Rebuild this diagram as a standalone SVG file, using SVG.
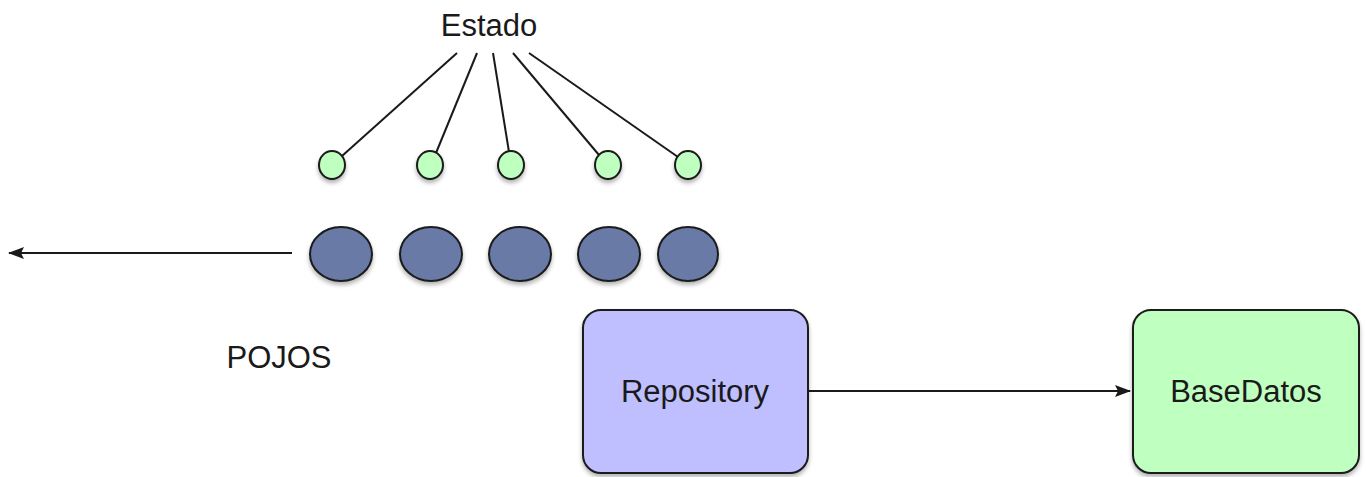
<svg xmlns="http://www.w3.org/2000/svg" width="1366" height="477" viewBox="0 0 1366 477">
<style>
text{font-family:"Liberation Sans",Arial,sans-serif;font-size:31px;fill:#1a1a1a}
.pojo{fill:#6a7aa6;stroke:#1a1a1a;stroke-width:2}
.st{fill:#bfffbf;stroke:#1a1a1a;stroke-width:2}
.ln{stroke:#1a1a1a;stroke-width:2;fill:none}
</style>
<defs>
<filter id="sh" x="-20%" y="-20%" width="140%" height="150%">
<feDropShadow dx="0" dy="3" stdDeviation="2" flood-color="#000" flood-opacity="0.3"/>
</filter>
<marker id="ah" viewBox="0 0 16 12" refX="15" refY="6" markerWidth="16" markerHeight="12" markerUnits="userSpaceOnUse" orient="auto">
<path d="M0,0 L16,6 L0,12 L3,6 Z" fill="#1a1a1a"/>
</marker>
</defs>
<g id="connectors">
<line class="ln" x1="457" y1="53" x2="342" y2="156"/>
<line class="ln" x1="477" y1="53" x2="436" y2="153"/>
<line class="ln" x1="493" y1="53" x2="509" y2="152"/>
<line class="ln" x1="513" y1="53" x2="599" y2="155"/>
<line class="ln" x1="529" y1="53" x2="678" y2="157"/>
<line class="ln" x1="292" y1="253" x2="9" y2="253" marker-end="url(#ah)"/>
<line class="ln" x1="808" y1="391" x2="1130" y2="391" marker-end="url(#ah)"/>
</g>
<g id="estado"><text x="489" y="36" text-anchor="middle">Estado</text></g>
<g id="estados" filter="url(#sh)">
<ellipse class="st" cx="332" cy="165" rx="13" ry="14"/>
<ellipse class="st" cx="430" cy="165" rx="13" ry="14"/>
<ellipse class="st" cx="511" cy="165" rx="13" ry="14"/>
<ellipse class="st" cx="608" cy="165" rx="13" ry="14"/>
<ellipse class="st" cx="688" cy="165" rx="13" ry="14"/>
</g>
<g id="pojos" filter="url(#sh)">
<ellipse class="pojo" cx="341" cy="254" rx="31" ry="27"/>
<ellipse class="pojo" cx="431" cy="254" rx="31" ry="27"/>
<ellipse class="pojo" cx="520" cy="254" rx="31" ry="27"/>
<ellipse class="pojo" cx="609" cy="254" rx="31" ry="27"/>
<ellipse class="pojo" cx="688" cy="254" rx="30" ry="27"/>
</g>
<g id="pojos-label"><text x="279" y="368" text-anchor="middle">POJOS</text></g>
<g id="repository">
<rect x="583" y="310" width="225" height="163" rx="18" fill="#bfbfff" stroke="#1a1a1a" stroke-width="2" filter="url(#sh)"/>
<text x="695" y="402" text-anchor="middle">Repository</text>
</g>
<g id="basedatos">
<rect x="1133" y="310" width="226" height="163" rx="18" fill="#bfffbf" stroke="#1a1a1a" stroke-width="2" filter="url(#sh)"/>
<text x="1246" y="402" text-anchor="middle">BaseDatos</text>
</g>
</svg>
